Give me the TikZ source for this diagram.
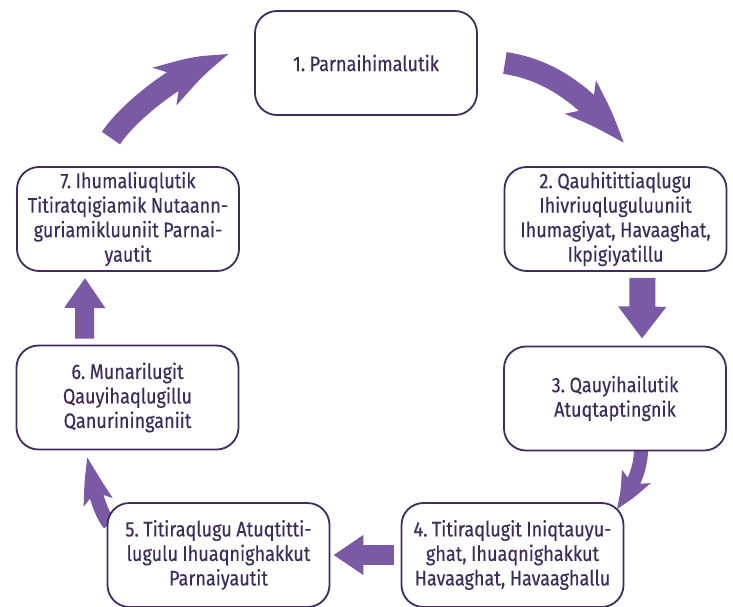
\documentclass[tikz,border=0pt]{standalone}
\usepackage{fontspec}
\setmainfont{Fira Sans}[FakeStretch=0.86,FakeBold=0.3]
\frenchspacing
\usetikzlibrary{arrows.meta,bending,backgrounds,positioning}

\definecolor{boxline}{HTML}{3F2B5E}
\definecolor{boxtext}{HTML}{3D2C5A}
\definecolor{flowfill}{HTML}{7A59A5}

\newcommand\stagefont{\fontsize{21}{24.5}\selectfont\spaceskip=4.5pt plus 1pt minus 1pt\relax}

\tikzset{
  stage/.style={draw=boxline, line width=1.8pt, fill=white, rounded corners=22pt,
    minimum width=222pt, minimum height=104pt, text width=214pt, align=flush center,
    text=boxtext, font=\stagefont, inner sep=0pt},
  flow/.style={draw=flowfill, line width=20pt, -{Triangle[length=30pt,width=38pt]}},
  bendflow/.style={draw=flowfill, line width=22pt, -{Stealth[length=60pt,width=44pt,inset=14pt,bend]}},
  smallbend/.style={draw=flowfill, line width=14pt, -{Stealth[length=38pt,width=30pt,inset=8pt,bend]}}
}

\begin{document}
\begin{tikzpicture}[x=1pt,y=-1pt]
    \useasboundingbox (0,0) rectangle (733,606);

    \node[stage] (n1) at (366,63) {1. Parnaihimalutik};
    \node[stage] (n2) at (615.5,219) {2. Qauhitittiaqlugu\\Ihivriuqluguluuniit\\Ihumagiyat, Havaaghat,\\Ikpigiyatillu};
    \node[stage] (n3) at (615,398.5) {3. Qauyihailutik\\Atuqtaptingnik};
    \node[stage] (n4) at (512.5,555) {4. Titiraqlugit Iniqtauyu-\\ghat, Ihuaqnighakkut\\Havaaghat, Havaaghallu};
    \node[stage] (n5) at (218.5,555) {5. Titiraqlugu Atuqtitti-\\lugulu Ihuaqnighakkut\\Parnaiyautit};
    \node[stage] (n6) at (127.5,397.5) {6. Munarilugit\\Qauyihaqlugillu\\Qanurininganiit};
    \node[stage] (n7) at (128,219) {7. Ihumaliuqlutik\\Titiratqigiamik Nutaann-\\guriamikluuniit Parnai-\\yautit};

    % straight arrows
    \draw[flow, line width=26pt, -{Triangle[length=32pt,width=46pt]}] ([xshift=27pt,yshift=-6pt]n2.south) -- ([xshift=27pt,yshift=7pt]n3.north);
    \draw[flow] ([xshift=-7pt]n4.west) -- ([xshift=3pt]n5.east);
    \draw[flow, line width=19pt, -{Triangle[length=30pt,width=39pt]}] ([xshift=-43pt,yshift=6pt]n6.north) -- ([xshift=-43pt,yshift=-6pt]n7.south);

    % curved arrows, behind the boxes
    \begin{scope}[on background layer]
    \draw[bendflow] ([xshift=27pt]n1.east) .. controls +(55,8) and +(-28,-35) .. ([xshift=8pt,yshift=23pt]n2.north);
    \draw[smallbend] ([xshift=26pt,yshift=2pt]n3.south) .. controls +(0,22) and +(14,-18) .. ([xshift=-8pt,yshift=-7pt]n4.north east);
    \draw[smallbend] ([xshift=3pt,yshift=-22pt]n5.north west) .. controls +(-12,-14) and +(4,18) .. ([xshift=-40pt,yshift=-8pt]n6.south);
    \draw[bendflow] ([xshift=-17pt,yshift=28pt]n7.north) .. controls +(18,-28) and +(-40,8) .. ([xshift=-26pt,yshift=7pt]n1.west);
    \end{scope}

\end{tikzpicture}
\end{document}
